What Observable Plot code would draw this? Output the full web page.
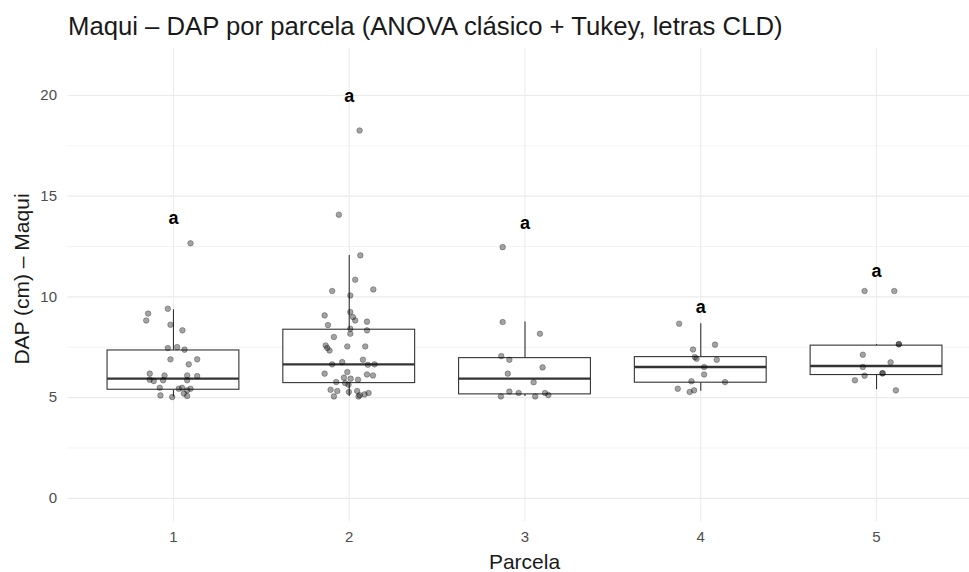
<!DOCTYPE html>
<html>
<head>
<meta charset="utf-8">
<script src="https://cdn.jsdelivr.net/npm/d3@7"></script>
<script src="https://cdn.jsdelivr.net/npm/@observablehq/plot@0.6"></script>
<style>
  body { margin: 0; background: #fff; }
  #wrap { position: relative; width: 969px; height: 572px; overflow: hidden; font-family: "Liberation Sans", Arial, sans-serif; }
  #title { height: 46px; box-sizing: border-box; padding-top: 14px; padding-left: 68px; font-size: 25.7px; line-height: 25px; color: #1a1a1a; white-space: nowrap; }
  #ytitle { position: absolute; left: -128px; top: 268px; width: 300px; height: 22px; line-height: 22px; text-align: center; font-size: 21px; color: #1a1a1a; transform: rotate(-90deg); white-space: nowrap; }
  #xtitle { position: absolute; left: 0; width: 1049px; top: 551px; text-align: center; font-size: 21px; line-height: 21px; color: #1a1a1a; }
  svg { display: block; }
</style>
</head>
<body>
<div id="wrap">
  <div id="title">Maqui – DAP por parcela (ANOVA clásico + Tukey, letras CLD)</div>
  <div id="chart"></div>
  <div id="ytitle">DAP (cm) – Maqui</div>
  <div id="xtitle">Parcela</div>
</div>
<script>
// Categories
const parcelas = [1, 2, 3, 4, 5];
const letras = ["a", "a", "a", "a", "a"];
const letraY = [13.9, 19.95, 13.65, 9.5, 11.28];

// Box statistics
const q1 = [5.39, 5.72, 5.16, 5.74, 6.12];
const mediana = [5.94, 6.65, 5.94, 6.52, 6.57];
const q3 = [7.34, 8.37, 6.96, 7.01, 7.58];
const bigoteInf = [5.03, 5.06, 5.06, 5.31, 5.39];
const bigoteSup = [9.36, 12.06, 8.75, 8.67, 7.64];

// Individual trees: DAP values and jittered x positions (in parcel units)
const dap1 = [9.17, 8.83, 9.41, 8.62, 8.34, 7.46, 7.51, 7.38, 6.90, 6.65, 6.90, 6.19, 5.89, 5.82, 6.10, 5.86, 6.10, 5.86, 6.07, 5.49, 5.11, 5.03, 5.44, 5.49, 5.36, 5.44, 5.08, 5.20, 12.66];
const jit1 = [0.856, 0.845, 0.968, 0.983, 1.051, 0.968, 1.021, 1.063, 0.983, 1.087, 1.135, 0.865, 0.865, 0.888, 0.949, 0.941, 1.078, 1.078, 1.135, 0.922, 0.926, 0.993, 1.030, 1.049, 1.078, 1.097, 1.078, 1.059, 1.097];

const dap2 = [18.26, 14.08, 12.06, 10.85, 10.29, 10.37, 10.07, 9.25, 9.08, 9.00, 8.83, 8.77, 8.60, 8.42, 8.34, 8.17, 8.01, 7.59, 7.46, 7.34, 7.54, 7.54, 6.88, 6.76, 6.65, 6.63, 6.65, 6.19, 6.15, 6.10, 6.27, 5.99, 5.94, 5.89, 5.77, 5.72, 5.64, 5.39, 5.33, 5.28, 5.33, 5.06, 5.06, 5.16, 5.23, 5.12];
const jit2 = [2.059, 1.941, 2.063, 2.034, 1.903, 2.137, 2.006, 2.006, 1.860, 2.021, 2.034, 2.101, 1.879, 2.006, 2.101, 2.006, 1.913, 1.866, 1.875, 1.888, 1.989, 2.091, 2.078, 1.960, 1.903, 2.106, 2.144, 1.860, 2.101, 2.135, 1.989, 1.970, 2.008, 2.050, 1.926, 1.977, 1.996, 1.894, 1.932, 1.998, 2.045, 1.913, 2.053, 2.087, 2.110, 2.060];

const dap3 = [12.47, 8.75, 8.17, 7.06, 6.88, 6.50, 6.19, 5.76, 5.30, 5.23, 5.06, 5.06, 5.23, 5.13];
const jit3 = [2.873, 2.873, 3.085, 2.865, 2.911, 3.100, 2.902, 3.049, 2.911, 2.964, 2.863, 3.058, 3.114, 3.133];

const dap4 = [8.67, 7.39, 7.63, 7.01, 6.93, 6.88, 6.52, 6.15, 5.81, 5.77, 5.44, 5.28, 5.36];
const jit4 = [3.877, 3.956, 4.081, 3.966, 3.976, 4.091, 4.019, 4.019, 3.947, 4.138, 3.869, 3.937, 3.962];

const dap5 = [10.29, 10.29, 7.64, 7.66, 7.13, 6.75, 6.52, 6.22, 6.20, 6.09, 5.86, 5.36];
const jit5 = [4.932, 5.101, 5.127, 5.127, 4.922, 5.080, 4.922, 5.034, 5.034, 4.932, 4.877, 5.110];

// Tables built from the arrays
const cajas = parcelas.map((p, i) => ({
  parcela: p, q1: q1[i], mediana: mediana[i], q3: q3[i],
  lo: bigoteInf[i], hi: bigoteSup[i], letra: letras[i], ly: letraY[i]
}));
const daps = [dap1, dap2, dap3, dap4, dap5];
const jits = [jit1, jit2, jit3, jit4, jit5];
const arboles = daps.flatMap((arr, g) => arr.map((v, j) => ({ parcela: parcelas[g], x: jits[g][j], dap: v })));

const halfWidth = 0.375;
const W = 969, H = 526;

const chart = Plot.plot({
  width: W,
  height: H,
  marginLeft: 67.5,
  marginRight: 0,
  marginTop: 2,
  marginBottom: 51,
  style: { fontFamily: "'Liberation Sans', Arial, sans-serif", background: "white" },
  x: { type: "linear", domain: [0.4, 5.6], range: [67.5, 981.5] },
  y: { domain: [-1.15, 22.33] },
  marks: [
    Plot.gridY([2.5, 7.5, 12.5, 17.5], { stroke: "#ebebeb", strokeOpacity: 1, strokeWidth: 0.6 }),
    Plot.gridY([0, 5, 10, 15, 20], { stroke: "#ebebeb", strokeOpacity: 1, strokeWidth: 1.1 }),
    Plot.gridX(parcelas, { stroke: "#ebebeb", strokeOpacity: 1, strokeWidth: 1.1 }),
    Plot.axisY([0, 5, 10, 15, 20], {
      tickSize: 0, tickPadding: 11, fontSize: 15, fill: "#4d4d4d", label: null
    }),
    Plot.axisX(parcelas, {
      tickSize: 0, tickPadding: 10, fontSize: 15, fill: "#4d4d4d", tickFormat: d => String(d),
      label: null
    }),
    // whiskers
    Plot.ruleX(cajas, { x: "parcela", y1: "q3", y2: "hi", stroke: "#333", strokeWidth: 1.1 }),
    Plot.ruleX(cajas, { x: "parcela", y1: "lo", y2: "q1", stroke: "#333", strokeWidth: 1.1 }),
    // boxes
    Plot.rect(cajas, { x1: d => d.parcela - halfWidth, x2: d => d.parcela + halfWidth, y1: "q1", y2: "q3", fill: "white", stroke: "#333", strokeWidth: 1.1 }),
    Plot.ruleY(cajas, { y: "mediana", x1: d => d.parcela - halfWidth, x2: d => d.parcela + halfWidth, stroke: "#333", strokeWidth: 2.3 }),
    // points
    Plot.dot(arboles, { x: "x", y: "dap", r: 2.8, fill: "black", fillOpacity: 0.36, stroke: "black", strokeOpacity: 0.35, strokeWidth: 0.8 }),
    // CLD letters
    Plot.text(cajas, { x: "parcela", y: "ly", text: "letra", fontSize: 18, fontWeight: "bold", fill: "black" })
  ]
});

document.getElementById("chart").appendChild(chart);
</script>
</body>
</html>
